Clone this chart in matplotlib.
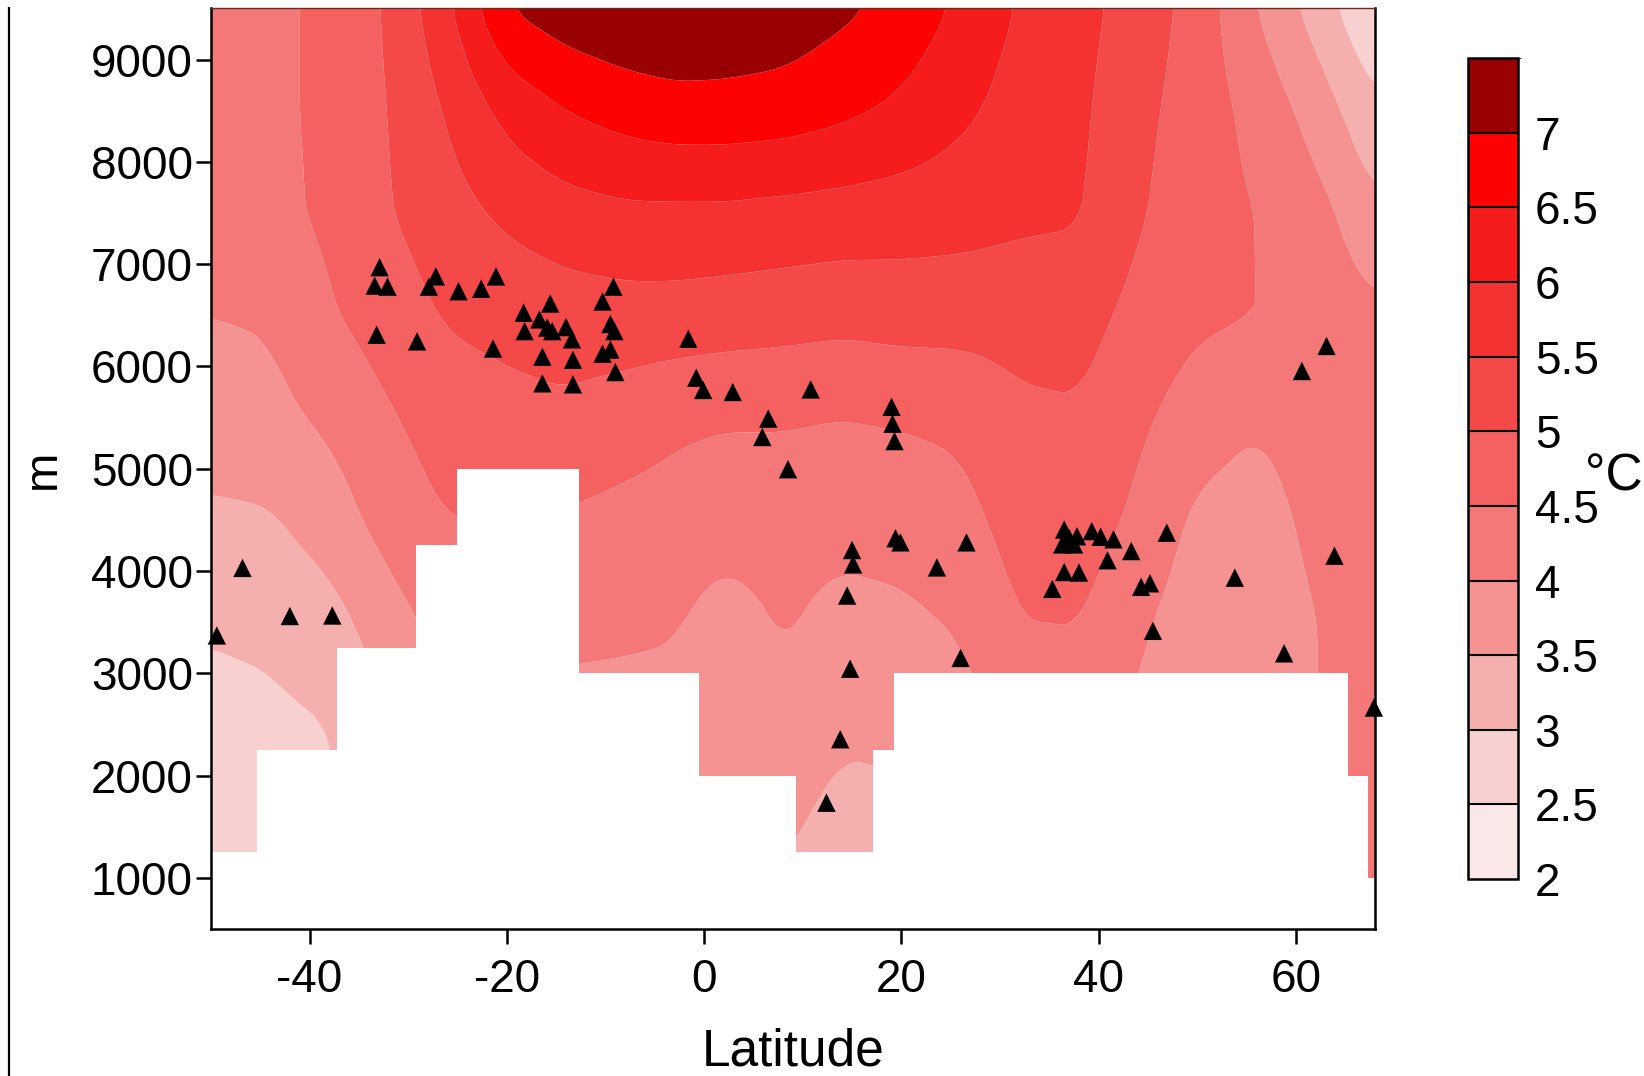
import numpy as np
import matplotlib
matplotlib.use("Agg")
import matplotlib.pyplot as plt
from matplotlib.colors import ListedColormap, BoundaryNorm
from matplotlib.lines import Line2D

plt.rcParams["font.family"] = ["Liberation Sans", "DejaVu Sans"]
plt.rcParams["axes.unicode_minus"] = False

# ---- temperature field (deg C) on a latitude x altitude grid ----
lat_nodes = [-50, -44, -38, -32, -26, -20, -14, -8, -3, 2, 8, 14, 20, 26, 32, 38, 44, 50, 56, 62, 68]
alt_nodes = [500, 1500, 2500, 3500, 4500, 5500, 6500, 7500, 8500, 9500]

temp_500  = [2.5, 2.5, 2.8, 3.1, 3.4, 3.4, 3.4, 3.4, 3.4, 3.2, 3.3, 3.1, 3.2, 3.4, 3.7, 3.8, 3.6, 3.3, 3.3, 3.7, 4.0]
temp_1500 = [2.65, 2.7, 2.9, 3.2, 3.6, 3.6, 3.6, 3.6, 3.6, 3.4, 3.6, 3.3, 3.4, 3.6, 3.9, 4.0, 3.75, 3.45, 3.45, 3.9, 4.1]
temp_2500 = [2.85, 2.9, 3.0, 3.4, 3.8, 3.8, 3.8, 3.8, 3.8, 3.6, 3.9, 3.6, 3.6, 3.8, 4.1, 4.2, 3.9, 3.6, 3.6, 4.0, 4.25]
temp_3500 = [3.05, 3.1, 3.3, 3.8, 4.2, 4.2, 4.15, 4.1, 4.05, 3.8, 4.05, 3.85, 3.9, 4.05, 4.5, 4.52, 4.1, 3.7, 3.6, 4.0, 4.3]
temp_4500 = [3.4, 3.45, 3.75, 4.2, 4.5, 4.5, 4.45, 4.35, 4.3, 4.2, 4.2, 4.15, 4.2, 4.35, 4.7, 4.75, 4.4, 3.9, 3.75, 4.15, 4.35]
temp_5500 = [3.8, 3.85, 4.1, 4.45, 4.75, 4.85, 4.9, 4.75, 4.6, 4.55, 4.55, 4.5, 4.55, 4.6, 4.9, 4.95, 4.6, 4.25, 4.05, 4.3, 4.3]
temp_6500 = [4.0, 4.05, 4.45, 4.75, 5.05, 5.15, 5.25, 5.3, 5.3, 5.25, 5.2, 5.15, 5.2, 5.2, 5.2, 5.2, 4.85, 4.6, 4.5, 4.4, 4.1]
temp_7500 = [4.3, 4.35, 4.6, 4.97, 5.3, 5.6, 5.8, 5.9, 5.9, 5.9, 5.85, 5.8, 5.75, 5.7, 5.6, 5.55, 5.05, 4.7, 4.5, 4.2, 3.6]
temp_8500 = [4.35, 4.4, 4.6, 5.0, 5.55, 6.15, 6.5, 6.7, 6.8, 6.8, 6.75, 6.6, 6.4, 6.1, 5.8, 5.6, 5.15, 4.75, 4.35, 3.8, 3.1]
temp_9500 = [4.4, 4.4, 4.6, 5.05, 5.9, 7.0, 7.3, 7.45, 7.5, 7.45, 7.35, 7.1, 6.85, 6.4, 5.95, 5.65, 5.3, 4.8, 4.0, 3.3, 2.5]

# ---- terrain (no data below these altitudes) ----
ground_edges = [-50, -45.3, -37.2, -29.2, -25.1, -12.7, -0.5, 9.3, 17.1, 19.2, 65.3, 67.3, 68]
ground_top = [1250, 2250, 3250, 4250, 5000, 3000, 2000, 1250, 2250, 3000, 2000, 1000]

# ---- stations ----
station_lat = [-32.9, -33.4, -32.1, -27.2, -27.9, -24.9, -22.6, -21.1, -33.2, -29.1,
               -21.4, -18.3, -15.6, -16.7, -15.9, -15.4, -18.2, -14.0, -13.4, -16.4,
               -13.3, -16.4, -13.3, -9.2, -10.3, -9.5, -9.1, -10.3, -9.5, -9.0,
               -1.6, -0.8, -0.1, 2.9, 10.8, 6.5, 5.9, 8.5, 19.0, 19.1,
               19.3, 19.4, 15.0, 15.1, 14.5, 23.6, 19.9, 26.6, 26.0, 36.5,
               37.8, 36.3, 37.5, 37.0, 39.3, 40.2, 41.5, 43.3, 46.9, 40.9,
               36.5, 38.0, 35.3, 44.3, 45.2, 45.5, 63.1, 60.6, 63.9, 53.8,
               58.8, 67.9, -46.8, -42.0, -37.7, -49.4, 14.8, 13.8, 12.4]
station_alt = [6970, 6790, 6780, 6880, 6780, 6735, 6760, 6880, 6310, 6245,
               6175, 6525, 6615, 6460, 6380, 6345, 6345, 6385, 6265, 6095,
               6065, 5835, 5825, 6780, 6635, 6415, 6345, 6125, 6165, 5945,
               6270, 5890, 5770, 5750, 5775, 5490, 5310, 4995, 5605, 5440,
               5270, 4320, 4205, 4065, 3760, 4035, 4280, 4280, 3150, 4405,
               4340, 4260, 4260, 4325, 4390, 4335, 4310, 4195, 4375, 4105,
               3990, 3985, 3825, 3845, 3880, 3415, 6200, 5955, 4150, 3935,
               3195, 2665, 4030, 3560, 3565, 3370, 3045, 2355, 1735]

levels = [2, 2.5, 3, 3.5, 4, 4.5, 5, 5.5, 6, 6.5, 7, 7.5]
tick_labels = ["2", "2.5", "3", "3.5", "4", "4.5", "5", "5.5", "6", "6.5", "7"]
band_colors = ["#FBE9E9", "#F8D0D0", "#F6AFAF", "#F59393", "#F57878", "#F56060",
               "#F54848", "#F53232", "#F71C1C", "#FE0202", "#990000"]

# ---- build a smooth grid by bilinear resampling of the node table ----
field = np.array([temp_500, temp_1500, temp_2500, temp_3500, temp_4500,
                  temp_5500, temp_6500, temp_7500, temp_8500, temp_9500])
lat_fine = np.linspace(lat_nodes[0], lat_nodes[-1], 600)
alt_fine = np.linspace(alt_nodes[0], alt_nodes[-1], 500)
tmp = np.array([np.interp(lat_fine, lat_nodes, row) for row in field])
grid = np.array([np.interp(alt_fine, alt_nodes, tmp[:, j]) for j in range(len(lat_fine))]).T


def smooth(a, n=21):
    """Box smoothing along both axes to round off the bilinear kinks."""
    k = np.ones(n) / n
    pad = n // 2
    b = np.pad(a, ((0, 0), (pad, pad)), mode="edge")
    b = np.array([np.convolve(r, k, mode="valid") for r in b])
    b = np.pad(b, ((pad, pad), (0, 0)), mode="edge")
    b = np.array([np.convolve(c, k, mode="valid") for c in b.T]).T
    return b


grid = smooth(grid)

fig = plt.figure(figsize=(16.44, 10.76), dpi=100)
ax = fig.add_axes([0.1283, 0.1366, 0.708, 0.8556])

cmap = ListedColormap(band_colors)
norm = BoundaryNorm(levels, cmap.N)
LAT, ALT = np.meshgrid(lat_fine, alt_fine)
cf = ax.contourf(LAT, ALT, grid, levels=levels, cmap=cmap, norm=norm,
                 extend="neither", antialiased=True)

# terrain blanked out in white
ax.bar(ground_edges[:-1], ground_top, width=np.diff(ground_edges), align="edge",
       bottom=0, color="white", edgecolor="none", zorder=2)

ax.scatter(station_lat, station_alt, marker="^", s=175, color="black",
           edgecolors="none", zorder=4, clip_on=False)

ax.set_xlim(-50, 68)
ax.set_ylim(500, 9500)
ax.set_xticks([-40, -20, 0, 20, 40, 60])
ax.set_yticks([1000, 2000, 3000, 4000, 5000, 6000, 7000, 8000, 9000])
ax.tick_params(axis="both", labelsize=33, length=11, width=1.8, colors="black")
ax.tick_params(axis="y", pad=2)
ax.tick_params(axis="x", pad=10)
for sp in ax.spines.values():
    sp.set_linewidth(1.8)
ax.spines["top"].set_linewidth(1.0)
ax.spines["top"].set_color("#6b2a1a")
ax.set_xlabel("Latitude", fontsize=37, labelpad=18)

fig.text(0.026, 1 - 469 / 1076, "m", fontsize=34, rotation=90, ha="center", va="center")

# colour key
cax = fig.add_axes([0.893, 0.183, 0.0304, 0.763])
cb = fig.colorbar(cf, cax=cax, drawedges=True, ticks=levels[:-1])
cb.ax.set_yticklabels(tick_labels)
cb.ax.tick_params(labelsize=33, length=0, pad=12)
cb.outline.set_linewidth(1.8)
cb.dividers.set_linewidth(1.5)
cb.dividers.set_color("black")
fig.text(0.964, 1 - 477 / 1076, "°C", fontsize=37, ha="left", va="center")

# outer frame line on the left
fig.add_artist(Line2D([8.5 / 1644, 8.5 / 1644], [0, 1 - 8 / 1076], transform=fig.transFigure,
                      color="black", linewidth=1.6))

fig.savefig("out.png", dpi=100, facecolor="white")
